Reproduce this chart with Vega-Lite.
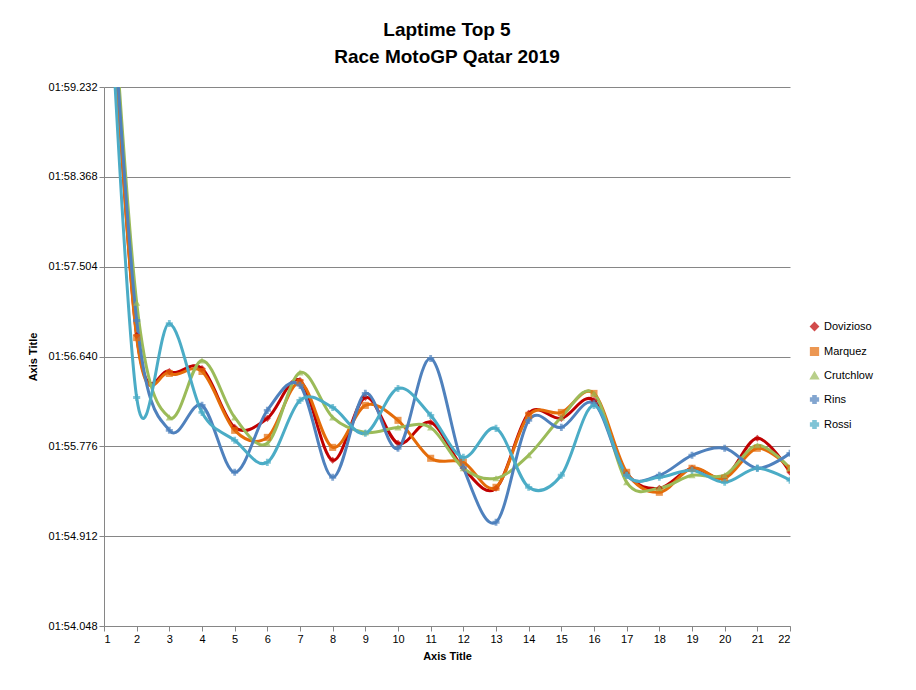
{
  "$schema": "https://vega.github.io/schema/vega-lite/v6.json",
  "autosize": "none",
  "width": 686,
  "height": 539,
  "padding": {"left": 104, "top": 87, "right": 126, "bottom": 64},
  "background": "white",
  "title": {
    "text": ["Laptime Top 5", "Race MotoGP Qatar 2019"],
    "font": "Liberation Sans",
    "fontSize": 19,
    "fontWeight": "bold",
    "lineHeight": 27,
    "offset": 14,
    "anchor": "middle",
    "color": "black"
  },
  "config": {
    "view": {"stroke": null},
    "font": "Liberation Sans"
  },
  "data": {
    "values": [
      {"lap": 1, "rider": "Dovizioso", "t": 121.4}, {"lap": 1, "rider": "Marquez", "t": 121.4}, {"lap": 1, "rider": "Crutchlow", "t": 121.5}, {"lap": 1, "rider": "Rins", "t": 121.4}, {"lap": 1, "rider": "Rossi", "t": 121.3},
      {"lap": 2, "rider": "Dovizioso", "t": 116.842}, {"lap": 2, "rider": "Marquez", "t": 116.822}, {"lap": 2, "rider": "Crutchlow", "t": 117.158}, {"lap": 2, "rider": "Rins", "t": 116.986}, {"lap": 2, "rider": "Rossi", "t": 116.246},
      {"lap": 3, "rider": "Dovizioso", "t": 116.496}, {"lap": 3, "rider": "Marquez", "t": 116.477}, {"lap": 3, "rider": "Crutchlow", "t": 116.054}, {"lap": 3, "rider": "Rins", "t": 115.930}, {"lap": 3, "rider": "Rossi", "t": 116.957},
      {"lap": 4, "rider": "Dovizioso", "t": 116.525}, {"lap": 4, "rider": "Marquez", "t": 116.496}, {"lap": 4, "rider": "Crutchlow", "t": 116.602}, {"lap": 4, "rider": "Rins", "t": 116.170}, {"lap": 4, "rider": "Rossi", "t": 116.102},
      {"lap": 5, "rider": "Dovizioso", "t": 115.958}, {"lap": 5, "rider": "Marquez", "t": 115.930}, {"lap": 5, "rider": "Crutchlow", "t": 116.054}, {"lap": 5, "rider": "Rins", "t": 115.526}, {"lap": 5, "rider": "Rossi", "t": 115.834},
      {"lap": 6, "rider": "Dovizioso", "t": 116.045}, {"lap": 6, "rider": "Marquez", "t": 115.862}, {"lap": 6, "rider": "Crutchlow", "t": 115.805}, {"lap": 6, "rider": "Rins", "t": 116.122}, {"lap": 6, "rider": "Rossi", "t": 115.622},
      {"lap": 7, "rider": "Dovizioso", "t": 116.410}, {"lap": 7, "rider": "Marquez", "t": 116.390}, {"lap": 7, "rider": "Crutchlow", "t": 116.486}, {"lap": 7, "rider": "Rins", "t": 116.362}, {"lap": 7, "rider": "Rossi", "t": 116.218},
      {"lap": 8, "rider": "Dovizioso", "t": 115.642}, {"lap": 8, "rider": "Marquez", "t": 115.766}, {"lap": 8, "rider": "Crutchlow", "t": 116.054}, {"lap": 8, "rider": "Rins", "t": 115.478}, {"lap": 8, "rider": "Rossi", "t": 116.150},
      {"lap": 9, "rider": "Dovizioso", "t": 116.246}, {"lap": 9, "rider": "Marquez", "t": 116.170}, {"lap": 9, "rider": "Crutchlow", "t": 115.910}, {"lap": 9, "rider": "Rins", "t": 116.285}, {"lap": 9, "rider": "Rossi", "t": 115.901},
      {"lap": 10, "rider": "Dovizioso", "t": 115.805}, {"lap": 10, "rider": "Marquez", "t": 116.026}, {"lap": 10, "rider": "Crutchlow", "t": 115.958}, {"lap": 10, "rider": "Rins", "t": 115.757}, {"lap": 10, "rider": "Rossi", "t": 116.333},
      {"lap": 11, "rider": "Dovizioso", "t": 116.006}, {"lap": 11, "rider": "Marquez", "t": 115.661}, {"lap": 11, "rider": "Crutchlow", "t": 115.958}, {"lap": 11, "rider": "Rins", "t": 116.621}, {"lap": 11, "rider": "Rossi", "t": 116.074},
      {"lap": 12, "rider": "Dovizioso", "t": 115.565}, {"lap": 12, "rider": "Marquez", "t": 115.622}, {"lap": 12, "rider": "Crutchlow", "t": 115.565}, {"lap": 12, "rider": "Rins", "t": 115.574}, {"lap": 12, "rider": "Rossi", "t": 115.670},
      {"lap": 13, "rider": "Dovizioso", "t": 115.373}, {"lap": 13, "rider": "Marquez", "t": 115.382}, {"lap": 13, "rider": "Crutchlow", "t": 115.469}, {"lap": 13, "rider": "Rins", "t": 115.046}, {"lap": 13, "rider": "Rossi", "t": 115.949},
      {"lap": 14, "rider": "Dovizioso", "t": 116.093}, {"lap": 14, "rider": "Marquez", "t": 116.074}, {"lap": 14, "rider": "Crutchlow", "t": 115.690}, {"lap": 14, "rider": "Rins", "t": 116.026}, {"lap": 14, "rider": "Rossi", "t": 115.382},
      {"lap": 15, "rider": "Dovizioso", "t": 116.045}, {"lap": 15, "rider": "Marquez", "t": 116.102}, {"lap": 15, "rider": "Crutchlow", "t": 116.054}, {"lap": 15, "rider": "Rins", "t": 115.958}, {"lap": 15, "rider": "Rossi", "t": 115.498},
      {"lap": 16, "rider": "Dovizioso", "t": 116.218}, {"lap": 16, "rider": "Marquez", "t": 116.285}, {"lap": 16, "rider": "Crutchlow", "t": 116.285}, {"lap": 16, "rider": "Rins", "t": 116.189}, {"lap": 16, "rider": "Rossi", "t": 116.170},
      {"lap": 17, "rider": "Dovizioso", "t": 115.517}, {"lap": 17, "rider": "Marquez", "t": 115.526}, {"lap": 17, "rider": "Crutchlow", "t": 115.430}, {"lap": 17, "rider": "Rins", "t": 115.498}, {"lap": 17, "rider": "Rossi", "t": 115.498},
      {"lap": 18, "rider": "Dovizioso", "t": 115.373}, {"lap": 18, "rider": "Marquez", "t": 115.334}, {"lap": 18, "rider": "Crutchlow", "t": 115.373}, {"lap": 18, "rider": "Rins", "t": 115.498}, {"lap": 18, "rider": "Rossi", "t": 115.478},
      {"lap": 19, "rider": "Dovizioso", "t": 115.565}, {"lap": 19, "rider": "Marquez", "t": 115.565}, {"lap": 19, "rider": "Crutchlow", "t": 115.498}, {"lap": 19, "rider": "Rins", "t": 115.690}, {"lap": 19, "rider": "Rossi", "t": 115.546},
      {"lap": 20, "rider": "Dovizioso", "t": 115.478}, {"lap": 20, "rider": "Marquez", "t": 115.469}, {"lap": 20, "rider": "Crutchlow", "t": 115.498}, {"lap": 20, "rider": "Rins", "t": 115.757}, {"lap": 20, "rider": "Rossi", "t": 115.430},
      {"lap": 21, "rider": "Dovizioso", "t": 115.853}, {"lap": 21, "rider": "Marquez", "t": 115.757}, {"lap": 21, "rider": "Crutchlow", "t": 115.786}, {"lap": 21, "rider": "Rins", "t": 115.565}, {"lap": 21, "rider": "Rossi", "t": 115.565},
      {"lap": 22, "rider": "Dovizioso", "t": 115.526}, {"lap": 22, "rider": "Marquez", "t": 115.565}, {"lap": 22, "rider": "Crutchlow", "t": 115.565}, {"lap": 22, "rider": "Rins", "t": 115.709}, {"lap": 22, "rider": "Rossi", "t": 115.450}
    ]
  },
  "encoding": {
    "x": {
      "field": "lap", "type": "quantitative",
      "scale": {"domain": [1, 22], "nice": false, "zero": false},
      "axis": {
        "title": "Axis Title", "titleFontSize": 11, "titleFontWeight": "bold", "titleColor": "black", "titlePadding": 6,
        "values": [1,2,3,4,5,6,7,8,9,10,11,12,13,14,15,16,17,18,19,20,21,22],
        "format": "d", "labelFontSize": 11, "labelColor": "black", "grid": false,
        "domainColor": "#868686", "tickColor": "#868686", "tickSize": 5
      }
    },
    "y": {
      "field": "t", "type": "quantitative",
      "scale": {"domain": [114.048, 119.232], "nice": false, "zero": false},
      "axis": {
        "title": "Axis Title", "titleFontSize": 11, "titleFontWeight": "bold", "titleColor": "black", "titlePadding": 10,
        "values": [114.048, 114.912, 115.776, 116.64, 117.504, 118.368, 119.232],
        "labelExpr": "'01:' + format(datum.value - 60, '06.3f')",
        "labelFontSize": 11, "labelColor": "black",
        "gridColor": "#868686", "gridWidth": 1, "domainColor": "#868686", "tickColor": "#868686", "tickSize": 5
      }
    },
    "color": {
      "field": "rider", "type": "nominal",
      "sort": ["Dovizioso", "Marquez", "Crutchlow", "Rins", "Rossi"],
      "scale": {"domain": ["Dovizioso", "Marquez", "Crutchlow", "Rins", "Rossi"], "range": ["#C00000", "#E46C0A", "#9BBB59", "#4F81BD", "#4BACC6"]},
      "legend": {
        "title": null, "orient": "none", "legendX": 705, "legendY": 234,
        "labelFontSize": 11, "labelColor": "black", "rowPadding": 10, "symbolSize": 60
      }
    }
  },
  "layer": [
    {
      "mark": {"type": "line", "interpolate": "cardinal", "strokeWidth": 3, "clip": true}
    },
    {
      "mark": {"type": "point", "filled": true, "size": 50, "clip": true},
      "encoding": {
        "shape": {
          "field": "rider", "type": "nominal",
          "scale": {"domain": ["Dovizioso", "Marquez", "Crutchlow", "Rins", "Rossi"], "range": ["diamond", "square", "triangle-up", "cross", "cross"]}
        }
      }
    }
  ]
}
